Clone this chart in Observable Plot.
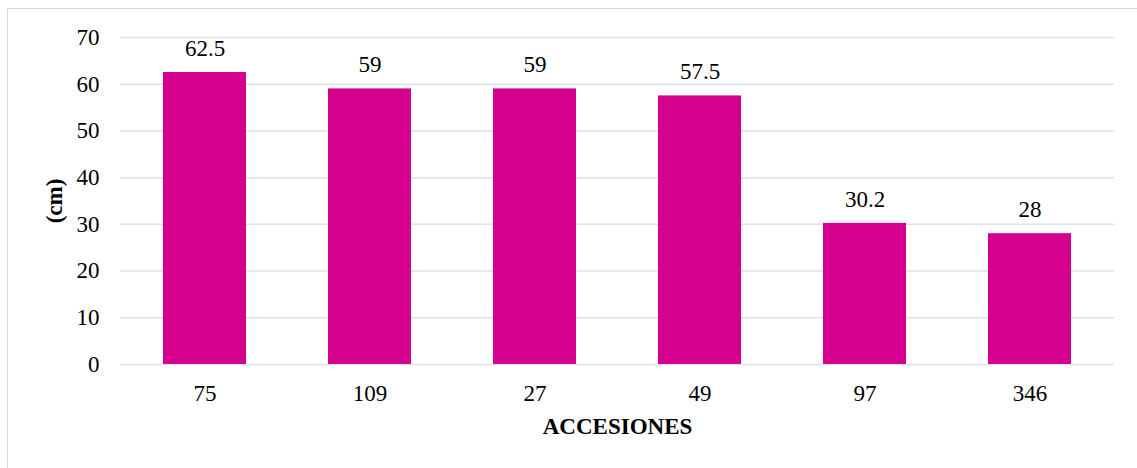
<!DOCTYPE html>
<html>
<head>
<meta charset="utf-8">
<script src="https://cdn.jsdelivr.net/npm/d3@7"></script>
<script src="https://cdn.jsdelivr.net/npm/@observablehq/plot@0.6"></script>
<style>
  html, body { margin: 0; padding: 0; background: #fff; }
  #wrap { position: relative; width: 1137px; height: 468px; overflow: hidden; }
  #frame { position: absolute; left: 7px; top: 8px; width: 1140px; height: 470px; border: 1px solid #d9d9d9; box-sizing: border-box; }
  #chart { position: absolute; left: 0; top: 0; }
  #chart svg, #chart svg text { font-family: "Liberation Serif", "Times New Roman", serif !important; }
</style>
</head>
<body>
<div id="wrap"><div id="frame"></div><div id="chart"></div></div>
<script>
const categories = ["75", "109", "27", "49", "97", "346"];
const values = [62.5, 59, 59, 57.5, 30.2, 28];
const yTicks = [0, 10, 20, 30, 40, 50, 60, 70];
const xTitle = "ACCESIONES";
const yTitle = "(cm)";

const data = categories.map((c, i) => ({ cat: c, v: values[i] }));
const font = "Liberation Serif, Times New Roman, serif";
const fs = 23;

const chart = Plot.plot({
  width: 1137,
  height: 468,
  marginLeft: 120,
  marginRight: 23,
  marginTop: 37,
  marginBottom: 104,
  style: { fontFamily: font, fontSize: fs + "px", color: "#000", background: "transparent" },
  x: { domain: categories, paddingInner: 0.5, paddingOuter: 0.25, label: null },
  y: { domain: [0, 70], ticks: yTicks, label: null },
  marks: [
    Plot.gridY(yTicks, { stroke: "#dbe1e8", strokeOpacity: 1, strokeWidth: 1.5 }),
    Plot.barY(data, { x: "cat", y: "v", fill: "#d6008f" }),
    Plot.text(data, { x: "cat", y: "v", text: d => String(d.v), dy: -24, fontSize: fs, fill: "#000", fontFamily: font }),
    Plot.axisX({ tickSize: 0, tickPadding: 20, fontSize: fs, fontFamily: font }),
    Plot.axisY(yTicks, { tickSize: 0, tickPadding: 21, fontSize: fs, fontFamily: font }),
    Plot.text([xTitle], { frameAnchor: "bottom", lineAnchor: "middle", textAnchor: "middle", dy: 62, fontWeight: "bold", fontSize: fs, fill: "#000", fontFamily: font }),
    Plot.text([yTitle], { frameAnchor: "left", lineAnchor: "middle", textAnchor: "middle", dx: -66, rotate: -90, fontWeight: "bold", fontSize: fs, fill: "#000", fontFamily: font })
  ]
});
document.getElementById("chart").appendChild(chart);
</script>
</body>
</html>
